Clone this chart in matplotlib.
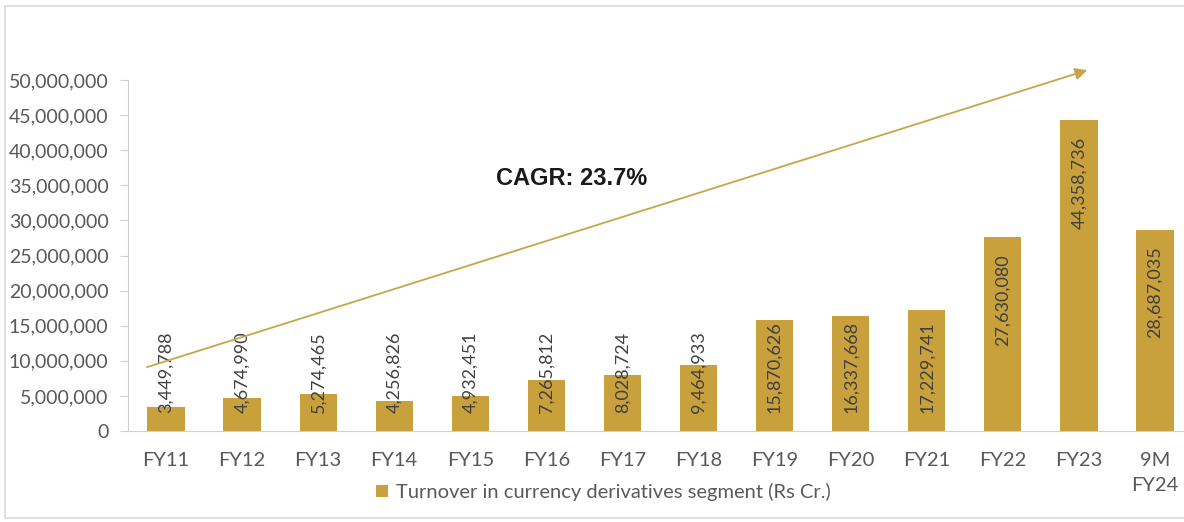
import matplotlib
matplotlib.use("Agg")
import matplotlib.pyplot as plt
from matplotlib.patches import Rectangle
from matplotlib.ticker import FuncFormatter

categories = ["FY11", "FY12", "FY13", "FY14", "FY15", "FY16", "FY17", "FY18",
              "FY19", "FY20", "FY21", "FY22", "FY23", "9M\nFY24"]
values = [3449788, 4674990, 5274465, 4256826, 4932451, 7265812, 8028724,
          9464933, 15870626, 16337668, 17229741, 27630080, 44358736, 28687035]
value_labels = ["3,449,788", "4,674,990", "5,274,465", "4,256,826", "4,932,451",
                "7,265,812", "8,028,724", "9,464,933", "15,870,626", "16,337,668",
                "17,229,741", "27,630,080", "44,358,736", "28,687,035"]
legend_label = "Turnover in currency derivatives segment (Rs Cr.)"
cagr_text = "CAGR: 23.7%"
y_ticks = list(range(0, 50000001, 5000000))

bar_color = "#C8A03C"
arrow_color = "#C9A44A"
text_gray = "#595959"

plt.rcParams['font.family'] = ['Lato', 'DejaVu Sans']

fig = plt.figure(figsize=(11.84, 5.22), dpi=100)
ax = fig.add_axes([128/1184, 91/522, 1065/1184, 351/522])

x = list(range(len(categories)))
ax.bar(x, values, width=0.49, color=bar_color, label=legend_label, zorder=2)

ax.set_xlim(-0.5, 13.5)
ax.set_ylim(0, 50000000)
ax.set_yticks(y_ticks)
ax.yaxis.set_major_formatter(FuncFormatter(lambda v, p: f"{int(v):,}"))
ax.set_xticks(x)
ax.set_xticklabels(categories, linespacing=1.55)

for s in ["top", "right"]:
    ax.spines[s].set_visible(False)
ax.spines["left"].set_color("#D0D0D0")
ax.spines["bottom"].set_color("#D0D0D0")
ax.tick_params(axis="y", length=6, width=0.8, color="#D0D0D0", pad=8,
               labelsize=14, labelcolor=text_gray)
ax.tick_params(axis="x", length=0, pad=15, labelsize=14.5, labelcolor=text_gray)
for lbl in ax.get_xticklabels():
    lbl.set_verticalalignment("top")

# value labels (rotated, inside bars)
px = 50000000 / 351.0
text_len = 92 * px
for xi, v, lab in zip(x, values, value_labels):
    top_y = v - 17 * px
    if top_y - text_len < 18 * px:
        ax.text(xi, 18 * px, lab, rotation=90, ha="center", va="bottom",
                fontsize=13, color="#404040", zorder=3)
    else:
        ax.text(xi, top_y, lab, rotation=90, ha="center", va="top",
                fontsize=13, color="#404040", zorder=3)

# CAGR arrow
ax.annotate("", xy=(12.11, 51400000), xytext=(-0.25, 9100000),
            arrowprops=dict(arrowstyle="-|>", color=arrow_color, lw=1.3,
                            mutation_scale=18, shrinkA=0, shrinkB=0),
            annotation_clip=False, zorder=4)
ax.text(5.33, 36000000, cagr_text, ha="center", va="center", fontsize=17,
        fontweight="bold", color="#1a1a1a", family=["Liberation Sans", "DejaVu Sans"])

leg = fig.legend(loc="center", bbox_to_anchor=(603/1184, 1 - 492/522), frameon=False,
                 fontsize=14.5, handlelength=0.6, handleheight=0.6, handletextpad=0.4)
for t in leg.get_texts():
    t.set_color(text_gray)

# outer frame
fig.patches.append(Rectangle((5/1184, 4/522), 1.2, 1 - 10/522, transform=fig.transFigure,
                             fill=False, edgecolor="#D9D9D9", lw=1.2))

fig.savefig("out.png", dpi=100)
